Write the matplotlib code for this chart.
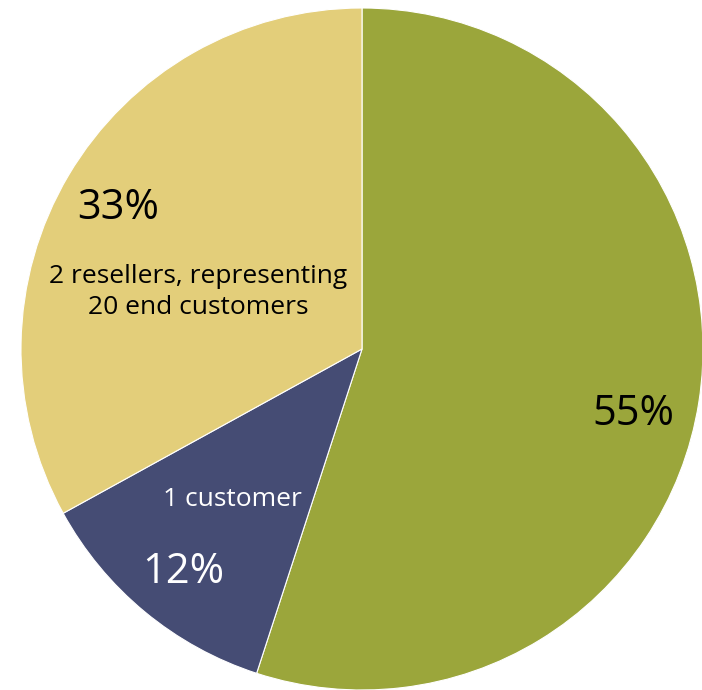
import matplotlib.pyplot as plt

# share of revenue per customer group
shares = [55, 12, 33]
colors = ['#9BA63B', '#454C74', '#E3CE7A']
pct_labels = ['55%', '12%', '33%']
pct_colors = ['black', 'white', 'black']
group_labels = ['', '1 customer', '2 resellers, representing\n20 end customers']

plt.rcParams['font.family'] = ['Open Sans', 'DejaVu Sans']

W, H = 702, 690
cx, cy, r = 362, 349, 341
fig = plt.figure(figsize=(W / 100, H / 100), dpi=100)
ax = fig.add_axes([(cx - r) / W, (H - cy - r) / H, 2 * r / W, 2 * r / H])

ax.pie(shares, colors=colors, startangle=90, counterclock=False, radius=1,
       wedgeprops=dict(edgecolor='white', linewidth=0.8))
ax.set_xlim(-1, 1)
ax.set_ylim(-1, 1)
ax.set_aspect('equal')
ax.axis('off')


def px(x, y):
    return (x - cx) / r, (cy - y) / r


# percentage labels
pct_pos = [(633, 414), (183, 572), (118, 208)]
for lab, col, (x, y) in zip(pct_labels, pct_colors, pct_pos):
    ax.text(*px(x, y), lab, color=col, fontsize=30, ha='center', va='center')

# group descriptions
grp_pos = [None, (232, 500), (198, 292)]
for lab, col, pos in zip(group_labels, pct_colors, grp_pos):
    if pos is None:
        continue
    ax.text(*px(*pos), lab, color=col, fontsize=19, ha='center', va='center',
            linespacing=1.32)

fig.savefig('out.png', dpi=100)
